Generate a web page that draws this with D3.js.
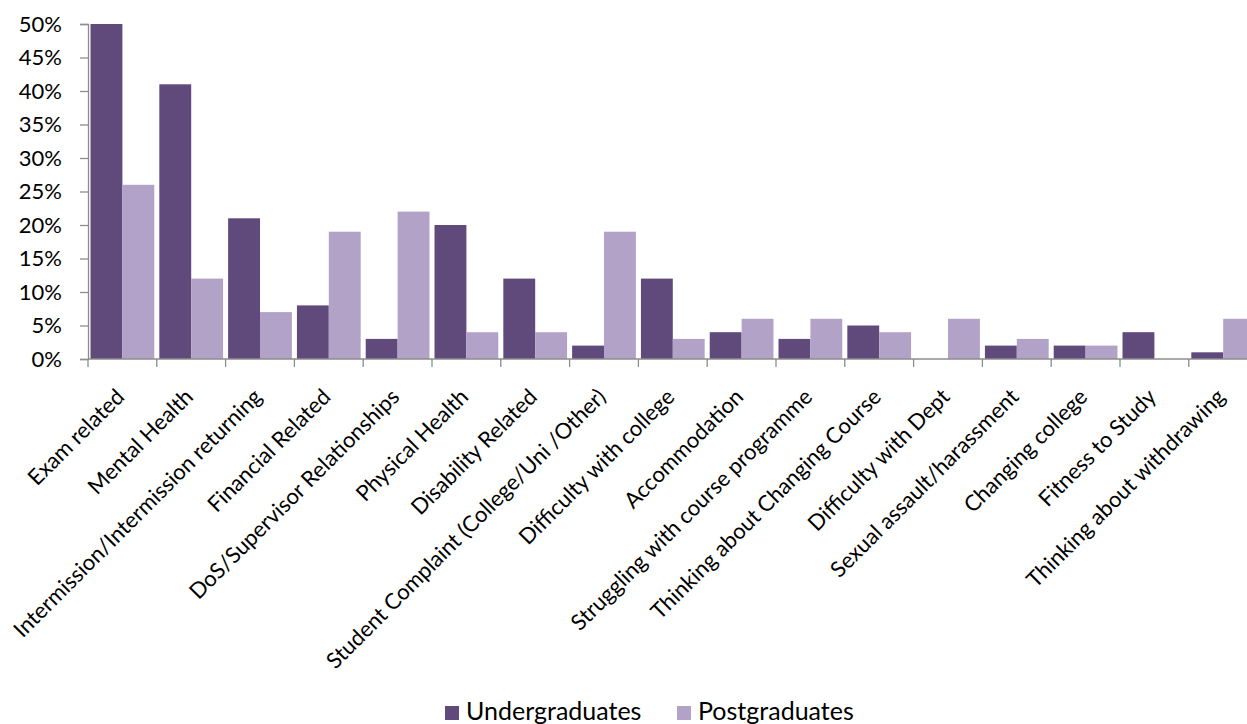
<!DOCTYPE html>
<html>
<head>
<meta charset="utf-8">
<script src="https://cdn.jsdelivr.net/npm/d3@7"></script>
<style>
  html, body { margin: 0; padding: 0; background: #fff; overflow: hidden; }
  svg { display: block; font-family: Lato, "Open Sans", sans-serif; }
</style>
</head>
<body>
<svg id="chart" width="1247" height="724"></svg>
<script>
// Reasons for contact, share of students (%)
const categories = [
  "Exam related",
  "Mental Health",
  "Intermission/Intermission returning",
  "Financial Related",
  "DoS/Supervisor Relationships",
  "Physical Health",
  "Disability Related",
  "Student Complaint (College/Uni /Other)",
  "Difficulty with college",
  "Accommodation",
  "Struggling with course programme",
  "Thinking about Changing Course",
  "Difficulty with Dept",
  "Sexual assault/harassment",
  "Changing college",
  "Fitness to Study",
  "Thinking about withdrawing"
];
const undergraduates = [50, 41, 21, 8, 3, 20, 12, 2, 12, 4, 3, 5, 0, 2, 2, 4, 1];
const postgraduates  = [26, 12, 7, 19, 22, 4, 4, 19, 3, 6, 6, 4, 6, 3, 2, 0, 6];
const seriesNames = ["Undergraduates", "Postgraduates"];
const seriesColors = ["#604a7b", "#b3a2c7"];
const yTicks = [0, 5, 10, 15, 20, 25, 30, 35, 40, 45, 50];

const svg = d3.select("#chart");
const plotLeft = 88, plotTop = 24, plotBottom = 359;
const bandW = 68.8;
const plotRight = plotLeft + bandW * categories.length;

const x = d3.scaleBand().domain(categories).range([plotLeft, plotRight]).padding(0);
const xInner = d3.scaleBand().domain(seriesNames)
  .range([0, x.bandwidth()]).paddingInner(0).paddingOuter(0.079);
const y = d3.scaleLinear().domain([0, 50]).range([plotBottom, plotTop]);

const rows = categories.map((c, i) => ({
  cat: c,
  vals: [
    { s: seriesNames[0], v: undergraduates[i], col: seriesColors[0] },
    { s: seriesNames[1], v: postgraduates[i], col: seriesColors[1] }
  ]
}));

// bars
const groups = svg.append("g").selectAll("g").data(rows).join("g")
  .attr("transform", d => `translate(${x(d.cat)},0)`);
groups.selectAll("rect").data(d => d.vals.filter(e => e.v > 0)).join("rect")
  .attr("x", d => xInner(d.s))
  .attr("y", d => y(d.v))
  .attr("width", xInner.bandwidth())
  .attr("height", d => y(0) - y(d.v))
  .attr("fill", d => d.col);

const axisColor = "#8c8c8c";

// y axis
const yAxis = svg.append("g")
  .attr("transform", `translate(${plotLeft},0)`)
  .call(d3.axisLeft(y).tickValues(yTicks).tickFormat(d => d + "%").tickSize(8).tickPadding(18));
yAxis.select(".domain").attr("stroke", axisColor).attr("stroke-width", 1.3);
yAxis.selectAll(".tick line").attr("stroke", axisColor).attr("stroke-width", 1.3);
yAxis.selectAll(".tick text")
  .attr("font-size", 22).attr("fill", "#000")
  .attr("font-family", "Lato, sans-serif");

// x axis: ticks at category boundaries
const xAxisG = svg.append("g");
xAxisG.append("line")
  .attr("x1", plotLeft).attr("x2", plotRight)
  .attr("y1", plotBottom).attr("y2", plotBottom)
  .attr("stroke", axisColor).attr("stroke-width", 1.3);
xAxisG.selectAll("line.tk").data(categories.concat([null])).join("line")
  .attr("class", "tk")
  .attr("x1", (d, i) => plotLeft + i * x.step())
  .attr("x2", (d, i) => plotLeft + i * x.step())
  .attr("y1", plotBottom).attr("y2", plotBottom + 8)
  .attr("stroke", axisColor).attr("stroke-width", 1.3);

// rotated category labels
xAxisG.selectAll("text").data(categories).join("text")
  .attr("transform", d => `translate(${x(d) + x.bandwidth() / 2 - 8},${plotBottom + 28}) rotate(-45)`)
  .attr("text-anchor", "end")
  .attr("dy", "0.72em")
  .attr("font-size", 22)
  .attr("fill", "#000")
  .text(d => d);

// legend
const legend = svg.append("g");
const legendItems = [
  { name: seriesNames[0], col: seriesColors[0], x: 445 },
  { name: seriesNames[1], col: seriesColors[1], x: 677 }
];
const li = legend.selectAll("g").data(legendItems).join("g")
  .attr("transform", d => `translate(${d.x},706)`);
li.append("rect").attr("width", 14).attr("height", 14).attr("fill", d => d.col);
li.append("text").attr("x", 21).attr("y", 14)
  .attr("font-size", 25).attr("fill", "#000").text(d => d.name);
</script>
</body>
</html>
